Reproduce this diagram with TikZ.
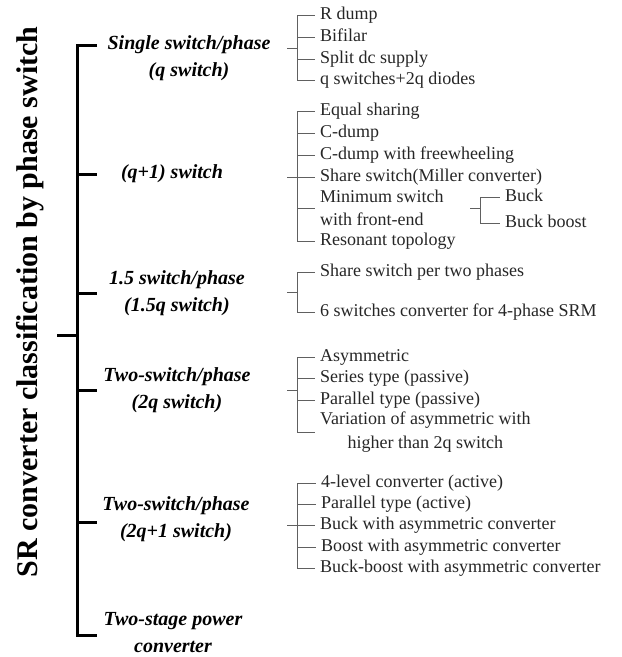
\documentclass[tikz,border=0pt]{standalone}
\usepackage{fontspec}
\setmainfont{Liberation Serif}
\begin{document}
\begin{tikzpicture}[x=1pt, y=-1pt,
    cat/.style={font=\fontsize{20}{27}\selectfont\bfseries\itshape, align=center, inner sep=0pt},
    item/.style={font=\fontsize{18}{23}\selectfont, text=black!85, anchor=west, inner xsep=5pt, inner ysep=0pt, text height=12.6pt, text depth=3.6pt},
    twoline/.style={text height={}, text depth={}},
    spine/.style={line width=3pt, line join=miter},
    twig/.style={gray!75!black, line width=1pt}]
    \useasboundingbox (0,0) rectangle (622,657);

    % Titolo verticale
    \node[font=\fontsize{30}{36}\selectfont\bfseries, rotate=90] (title) at (30,302) {SR converter classification by phase switch};

    % Dorsale (parentesi spessa)
    \coordinate (t1) at (77,45);
    \coordinate (t2) at (77,174);
    \coordinate (t3) at (77,293);
    \coordinate (t4) at (77,390);
    \coordinate (t5) at (77,522);
    \coordinate (t6) at (77,635);
    \coordinate (root) at (57,335);
    \draw[spine] ([xshift=20pt]t1) -- (t1) -- (t6) -- ([xshift=20pt]t6);
    \foreach \t in {t2,t3,t4,t5}
        \draw[spine] (\t) -- ([xshift=20pt]\t);
    \draw[spine] (root) -- (root -| t1);

    % Categorie
    \node[cat] (c1) at (189,58.5) {Single switch/phase\\(q switch)};
    \node[cat] (c2) at (172,174) {(q+1) switch};
    \node[cat] (c3) at (177,293.5) {1.5 switch/phase\\(1.5q switch)};
    \node[cat] (c4) at (177,390) {Two-switch/phase\\(2q switch)};
    \node[cat] (c5) at (176,519.5) {Two-switch/phase\\(2q+1 switch)};
    \node[cat] (c6) at (173,633) {Two-stage power\\converter};

    % Gruppo 1
    \node[item] (a1) at (315,15) {R dump};
    \node[item] (a2) at (315,37) {Bifilar};
    \node[item] (a3) at (315,59) {Split dc supply};
    \node[item] (a4) at (315,80) {q switches+2q diodes};
    \coordinate (b1) at (297,48);
    \draw[twig] ([xshift=-10pt]b1) -- (b1);
    \draw[twig] (b1 |- a1.west) -- (b1 |- a4.west);
    \foreach \n in {a1,a2,a3,a4}
        \draw[twig] (b1 |- \n.west) -- (\n.west);

    % Gruppo 2
    \node[item] (e1) at (315,111) {Equal sharing};
    \node[item] (e2) at (315,133) {C-dump};
    \node[item] (e3) at (315,155) {C-dump with freewheeling};
    \node[item] (e4) at (315,177) {Share switch(Miller converter)};
    \node[item, twoline, align=left, font=\fontsize{18}{23}\selectfont] (e5) at (315,208) {Minimum switch\\with front-end};
    \node[item] (e6) at (315,241) {Resonant topology};
    \coordinate (b2) at (297,177);
    \draw[twig] ([xshift=-10pt]b2) -- (b2);
    \draw[twig] (b2 |- e1.west) -- (b2 |- e6.west);
    \foreach \n in {e1,e2,e3,e4,e5,e6}
        \draw[twig] (b2 |- \n.west) -- (\n.west);

    % Sotto-gruppo (front-end)
    \node[item] (f1) at (500,197) {Buck};
    \node[item] (f2) at (500,223) {Buck boost};
    \coordinate (bf) at (480,208);
    \draw[twig] ([xshift=-10pt]bf) -- (bf);
    \draw[twig] (bf |- f1.west) -- (bf |- f2.west);
    \foreach \n in {f1,f2}
        \draw[twig] (bf |- \n.west) -- (\n.west);

    % Gruppo 3
    \node[item] (h1) at (315,272) {Share switch per two phases};
    \node[item] (h2) at (315,312) {6 switches converter for 4-phase SRM};
    \coordinate (b3) at (297,292);
    \draw[twig] ([xshift=-10pt]b3) -- (b3);
    \draw[twig] (b3 |- h1.west) -- (b3 |- h2.west);
    \foreach \n in {h1,h2}
        \draw[twig] (b3 |- \n.west) -- (\n.west);

    % Gruppo 4
    \node[item] (k1) at (315,357) {Asymmetric};
    \node[item] (k2) at (315,378) {Series type (passive)};
    \node[item] (k3) at (315,400) {Parallel type (passive)};
    \node[item, twoline, align=center, font=\fontsize{18}{24}\selectfont] (k4) at (315,432) {Variation of asymmetric with\\higher than 2q switch};
    \coordinate (b4) at (297,390);
    \draw[twig] ([xshift=-10pt]b4) -- (b4);
    \draw[twig] (b4 |- k1.west) -- (b4 |- k4.west);
    \foreach \n in {k1,k2,k3,k4}
        \draw[twig] (b4 |- \n.west) -- (\n.west);

    % Gruppo 5
    \node[item] (m1) at (316,483) {4-level converter (active)};
    \node[item] (m2) at (316,504) {Parallel type (active)};
    \node[item] (m3) at (315,525) {Buck with asymmetric converter};
    \node[item] (m4) at (316,547) {Boost with asymmetric converter};
    \node[item] (m5) at (315,568) {Buck-boost with asymmetric converter};
    \coordinate (b5) at (297,525);
    \draw[twig] ([xshift=-10pt]b5) -- (b5);
    \draw[twig] (b5 |- m1.west) -- (b5 |- m5.west);
    \foreach \n in {m1,m2,m3,m4,m5}
        \draw[twig] (b5 |- \n.west) -- (\n.west);

\end{tikzpicture}
\end{document}
